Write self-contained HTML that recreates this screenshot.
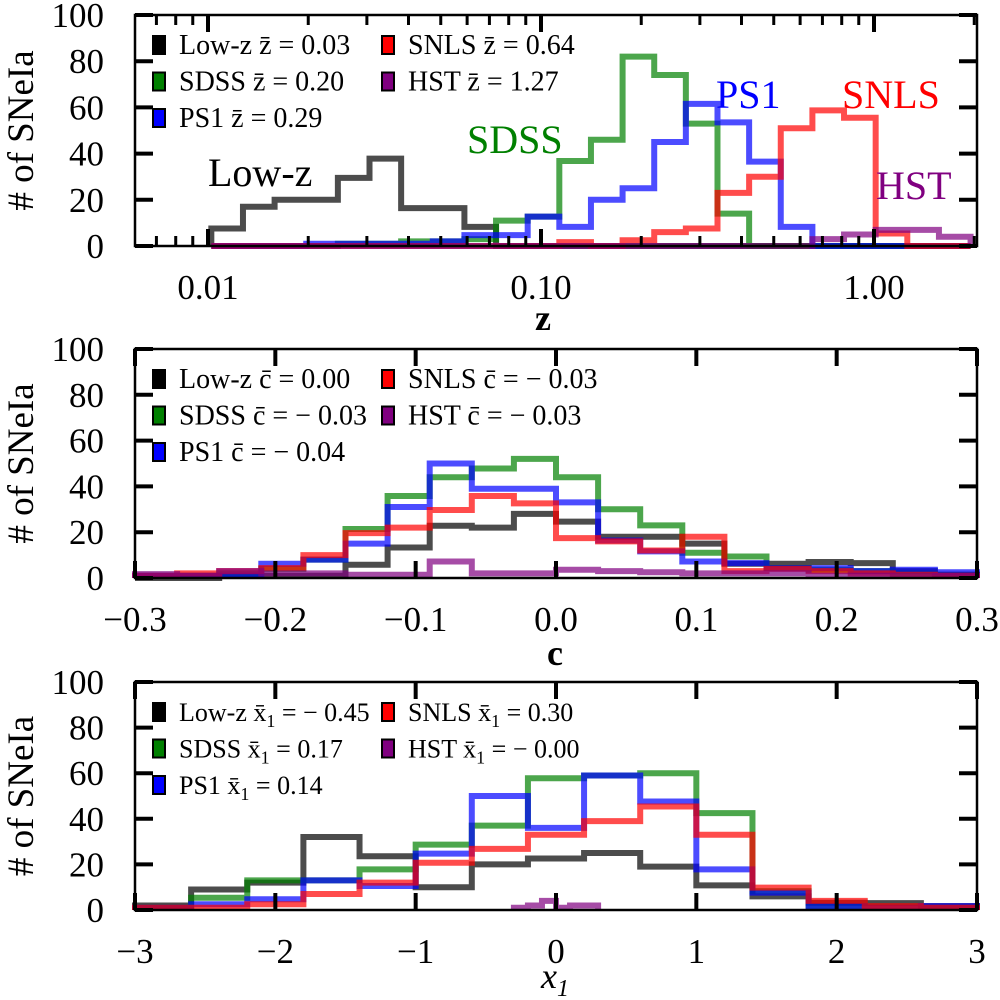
<!DOCTYPE html>
<html><head><meta charset="utf-8"><style>
html,body{margin:0;padding:0;background:#fff;}
svg{display:block;}
text{font-family:"Liberation Serif","DejaVu Serif",serif;}
</style></head><body>
<svg id="chart" width="1000" height="1000" viewBox="0 0 1000 1000" xmlns="http://www.w3.org/2000/svg"></svg>
<script>
// ---- Panel 1 (redshift z, log bins) ----
const zLogStart = -1.99;
const zLogWidth = 0.095;
const zTickValues = [0.01, 0.1, 1];
const zTickLabels = ["0.01", "0.10", "1.00"];
const zLowz = [7.6,17,20,20,29.5,37.8,16.4,16.4,8.3,0,0,0,0,0,0,0,0,0,0,0,0,0,0,0];
const zSdss = [0,0,0,0,1,1,2,2,3,11,12.7,36.8,46,82,74,53,14,0,0,0,0,0,0,0];
const zPs1  = [0,0,0,1,1,1,1,2,4.7,4.7,12.7,8.3,20,25,45,61.5,53.5,36.5,8.3,0,0,0,0,0];
const zSnls = [0,0,0,0,0,0,0,0,0,0,0,1.7,0,2.5,6,7.6,23,30,51,58.7,55.5,5.4,0,0];
const zHst  = [0,0,0,0,0,0,0,0,0,0,0,0,0,0,0,0,0,0,0,3,5,7,7,4];
// ---- Panel 2 (colour c) ----
const cStart = -0.3;
const cWidth = 0.03;
const cTickValues = [-0.3,-0.2,-0.1,0,0.1,0.2,0.3];
const cTickLabels = ["\u22120.3","\u22120.2","\u22120.1","0.0","0.1","0.2","0.3"];
const cLowz = [0,0,1,1,1,5.8,13.3,22.8,22,28,24.6,18,18,15,6.2,6.2,7,6.5,3,1.4];
const cSdss = [1,1,2,4,8,21.4,35.8,44,47.8,52,44,30,23,11,9.4,4.3,3.6,3,2,1.4];
const cPs1  = [1,1,1,6.2,8,15,31,50,39,39,33,16.4,11.6,7.2,6.5,4.3,4.3,3,3.6,2.5];
const cSnls = [1,2,3,4.3,10,19.6,22,29.7,35.8,32.6,17.4,16,12,18,3,4,3,2,1.4,1];
const cHst  = [1.7,1,3,2,2,1.4,1.4,7.2,2,2,3.6,3,2.5,2,2,2,1,1,1,1];
// ---- Panel 3 (stretch x1) ----
const xStart = -3;
const xWidth = 0.4;
const xHstStart = -0.3;
const xHstWidth = 0.1;
const xTickValues = [-3,-2,-1,0,1,2,3];
const xTickLabels = ["\u22123","\u22122","\u22121","0","1","2","3"];
const xLowz = [2,9,12,32,23.6,10,20,22.6,25,19,10.8,6,3.2,3,1.7];
const xSdss = [1,5.4,13,13,17.8,28.7,37,57.8,59,60,42.5,8.3,1.7,1,1];
const xPs1  = [1,2.5,4.7,13,10.5,24.7,50,36,59,47.6,17.8,7.6,1.7,1,1.7];
const xSnls = [1,1,2.5,7,12,20.7,26.8,33,39,45.4,33,9.8,4,1.7,1];
const xHst  = [1,2,4,1,2,2];
const yTickValues = [0,20,40,60,80,100];

const NS="http://www.w3.org/2000/svg";
const svg=document.getElementById('chart');
const COL={lowz:"rgba(0,0,0,0.7)",sdss:"rgba(0,128,0,0.7)",ps1:"rgba(0,0,255,0.7)",snls:"rgba(255,0,0,0.7)",hst:"rgba(128,0,128,0.7)"};
const SOLID={lowz:"#000",sdss:"#008000",ps1:"#0000ff",snls:"#ff0000",hst:"#800080"};
const L=135,R=977;
function mk(tag,attrs,parent){const e=document.createElementNS(NS,tag);for(const k in attrs)e.setAttribute(k,attrs[k]);(parent||svg).appendChild(e);return e;}

function panel(cfg){
  const g=mk('g',{});
  
  
  const yS=v=>cfg.y0+(cfg.y100-cfg.y0)*v/100;
  cfg.series.forEach(s=>{
    let d='M'+cfg.xS(s.start)+','+yS(0);
    for(let i=0;i<s.vals.length;i++){
      d+=' V'+yS(s.vals[i])+' H'+cfg.xS(s.start+s.width*(i+1));
    }
    d+=' V'+yS(0);
    const p=mk('path',{d:d,fill:'none',stroke:COL[s.key],'stroke-width':6,'stroke-linejoin':'miter'},g);
    
    
  });
  const fr=mk('rect',{x:L,y:cfg.y100,width:R-L,height:cfg.y0-cfg.y100,fill:'none',stroke:'#000','stroke-width':2.5},g);
  
  
  yTickValues.forEach(v=>{
    const y=yS(v);
    mk('line',{x1:L,x2:L+18,y1:y,y2:y,stroke:'#000','stroke-width':4},g);
    mk('line',{x1:R-18,x2:R,y1:y,y2:y,stroke:'#000','stroke-width':4},g);
    const t=mk('text',{x:104,y:y+12,'font-size':35,'text-anchor':'end',style:'fill:#000'},g);
    t.textContent=String(v);
    
    
  });
  cfg.ticks.forEach((v,i)=>{
    const x=cfg.xS(v);
    mk('line',{x1:x,x2:x,y1:cfg.y0,y2:cfg.y0-17,stroke:'#000','stroke-width':4},g);
    mk('line',{x1:x,x2:x,y1:cfg.y100,y2:cfg.y100+17,stroke:'#000','stroke-width':4},g);
    const t=mk('text',{x:x,y:cfg.y0+53,'font-size':35,'text-anchor':'middle',style:'fill:#000'},g);
    t.textContent=cfg.tickLabels[i];
    
    
  });
  (cfg.minor||[]).forEach(v=>{
    const x=cfg.xS(v);
    mk('line',{x1:x,x2:x,y1:cfg.y0,y2:cfg.y0-10,stroke:'#000','stroke-width':3},g);
    mk('line',{x1:x,x2:x,y1:cfg.y100,y2:cfg.y100+10,stroke:'#000','stroke-width':3},g);
  });
  const yt=mk('text',{x:0,y:0,'font-size':37,'text-anchor':'middle',style:'fill:#000',transform:'translate(33,'+(cfg.y100+cfg.y0)/2+') rotate(-90)'},g);
  yt.textContent='# of SNeIa';
  
  
  const xt=mk('text',{x:cfg.titleX,y:cfg.titleY,'font-size':36,'text-anchor':'middle',style:'fill:#000','font-weight':cfg.titleBold?'bold':'normal','font-style':cfg.titleItalic?'italic':'normal'},g);
  xt.innerHTML=cfg.title;
  
  
  const rows=[[0,0,'lowz'],[1,0,'sdss'],[2,0,'ps1'],[0,1,'snls'],[1,1,'hst']];
  rows.forEach(([r,c,key],i)=>{
    const ly=cfg.y100+30+r*36.5;
    const lx=c?382:153;
    const sq=mk('rect',{x:lx,y:ly-9,width:12,height:18,fill:SOLID[key],stroke:'#000','stroke-width':2},g);
    
    
    const t=mk('text',{x:lx+26,y:ly+9,'font-size':cfg.legendSize||28,style:'fill:#000'},g);
    t.innerHTML=cfg.legend[i];
    
    
  });
  return g;
}
function S(key,start,width,vals){return {key,start,width,vals};}

const zx=z=>208+333*(Math.log10(z)+2);
const zxLog=l=>208+333*(l+2);
const minorZ=[];
[0.01,0.1,1].forEach(b=>{for(let m=2;m<=9;m++){const v=b*m;if(zx(v)<R&&zx(v)>L)minorZ.push(v);}});
[0.006,0.007,0.008,0.009].forEach(v=>{if(zx(v)>L)minorZ.push(v);});

const p1=panel({name:'redshift-panel',y0:246,y100:15,
  xS:v=>zxLog(v),ticks:zTickValues.map(Math.log10),tickLabels:zTickLabels,minor:minorZ.map(Math.log10),
  series:[S('lowz',zLogStart,zLogWidth,zLowz),S('sdss',zLogStart,zLogWidth,zSdss),S('ps1',zLogStart,zLogWidth,zPs1),S('snls',zLogStart,zLogWidth,zSnls),S('hst',zLogStart,zLogWidth,zHst)],
  title:'z',titleX:543,titleY:330,titleBold:true,
  legend:['Low-z z\u0304 = 0.03','SDSS z\u0304 = 0.20','PS1 z\u0304 = 0.29','SNLS z\u0304 = 0.64','HST z\u0304 = 1.27']});
[['Low-z',208,186,'lowz'],['SDSS',467,153,'sdss'],['PS1',716,108,'ps1'],['SNLS',842,108,'snls'],['HST',876,199,'hst']].forEach(([txt,x,y,key])=>{
  const t=mk('text',{x:x,y:y,'font-size':40,style:'fill:'+SOLID[key]},p1);
  t.textContent=txt;
  
  
});

const cx=c=>L+(c+0.3)/0.6*(R-L);
panel({name:'color-panel',y0:578,y100:349,
  xS:cx,ticks:cTickValues,tickLabels:cTickLabels,
  series:[S('lowz',cStart,cWidth,cLowz),S('sdss',cStart,cWidth,cSdss),S('ps1',cStart,cWidth,cPs1),S('snls',cStart,cWidth,cSnls),S('hst',cStart,cWidth,cHst)],
  title:'c',titleX:555,titleY:665,titleBold:true,
  legend:['Low-z c\u0304 = 0.00','SDSS c\u0304 = \u2212 0.03','PS1 c\u0304 = \u2212 0.04','SNLS c\u0304 = \u2212 0.03','HST c\u0304 = \u2212 0.03']});

const xx=v=>L+(v+3)/6*(R-L);
const subL=s=>'x\u0304<tspan font-size="18" dy="6">1</tspan><tspan dy="-6"> = '+s+'</tspan>';
panel({name:'stretch-panel',y0:910,y100:682,legendSize:26,
  xS:xx,ticks:xTickValues,tickLabels:xTickLabels,
  series:[S('lowz',xStart,xWidth,xLowz),S('sdss',xStart,xWidth,xSdss),S('ps1',xStart,xWidth,xPs1),S('snls',xStart,xWidth,xSnls),S('hst',xHstStart,xHstWidth,xHst)],
  title:'x<tspan font-size="24" dy="8">1</tspan>',titleX:555,titleY:988,titleItalic:true,
  legend:['Low-z '+subL('\u2212 0.45'),'SDSS '+subL('0.17'),'PS1 '+subL('0.14'),'SNLS '+subL('0.30'),'HST '+subL('\u2212 0.00')]});
</script>
</body></html>
